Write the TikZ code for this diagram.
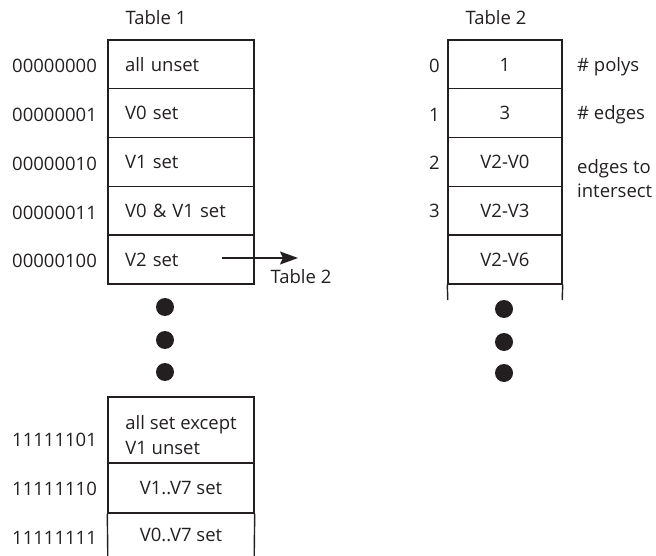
\documentclass[tikz,border=0pt]{standalone}
\usepackage{fontspec}
\setmainfont{Open Sans}
\usetikzlibrary{arrows.meta}
\definecolor{ink}{HTML}{231F20}
\begin{document}
\begin{tikzpicture}[x=1pt,y=-1pt,
  every node/.style={font=\fontsize{18.5}{24}\selectfont, text=ink, inner sep=0pt},
  box/.style={draw=ink, line width=1.4pt, minimum width=146pt},
  cellA/.style={box, text width=112pt, align=left},
  cellB/.style={draw=ink, line width=1.4pt, minimum width=114pt, minimum height=48.8pt, align=center},
  lab/.style={anchor=east},
  rlab/.style={anchor=west, align=left},
  dot/.style={circle, fill=ink, minimum size=18pt},
  sideline/.style={draw=ink, line width=1.4pt}
]
\useasboundingbox (0,0) rectangle (656,556);
% ---------- Table 1 ----------
\node (t1title) at (156,18) {Table 1};
\foreach \i/\txt/\code in {0/all unset/00000000, 1/V0 set/00000001, 2/V1 set/00000010, 3/V0 \& V1 set/00000011, 4/V2 set/00000100}{
  \node[cellA, minimum height=48.8pt] (a\i) at (181,{64.4+48.8*\i}) {\txt};
  \node[lab] (ca\i) at (97,{66+48.8*\i}) {\code};
}
% arrow to Table 2
\coordinate (arrS) at (222,258);
\coordinate (arrE) at (298,258);
\draw[ink, line width=1.5pt, -{Stealth[length=18pt,width=13pt,inset=3pt]}] (arrS) -- (arrE);
\node (t2ref) at (301,277) {Table 2};
% dots Table 1
\node[dot] (d1) at (165,307) {};
\node[dot] (d2) at (165,340) {};
\node[dot] (d3) at (165,372) {};
% bottom table
\node[box, minimum height=66pt, align=left] (b0) at (181,430) {\rule{0pt}{24pt}all set except\\[1pt]V1 unset};
\node[lab] (cb0) at (97,440) {11111101};
\node[box, minimum height=50pt, align=center] (b1) at (181,488) {V1..V7 set};
\node[lab] (cb1) at (97,489) {11111110};
\node[minimum width=146pt, minimum height=43pt, align=center] (b2) at (181,534.5) {V0..V7 set};
\node[lab] (cb2) at (97,538) {11111111};
\draw[sideline] (b1.south west) -- (b2.south west) (b1.south east) -- (b2.south east);
% ---------- Table 2 ----------
\node (t2title) at (496,18) {Table 2};
\foreach \i/\txt in {0/1, 1/3, 2/V2-V0, 3/V2-V3, 4/V2-V6}{
  \node[cellB] (c\i) at (505,{64.4+48.8*\i}) {\txt};
}
\node[lab] (i0) at (440,66) {0};
\node[lab] (i1) at (440,115) {1};
\node[lab] (i2) at (440,163) {2};
\node[lab] (i3) at (440,211) {3};
\node[minimum width=114pt, minimum height=16pt] (c5) at (505,292) {};
\draw[sideline] (c4.south west) -- (c5.south west) (c4.south east) -- (c5.south east);
\node[rlab] (r0) at (577,67) {\# polys};
\node[rlab] (r1) at (577,115) {\# edges};
\node[rlab, anchor=north west] (r2) at (577,159) {edges to\\[0pt]intersect};
% dots Table 2
\node[dot] (e1) at (504,309) {};
\node[dot] (e2) at (504,342) {};
\node[dot] (e3) at (504,373) {};
\end{tikzpicture}
\end{document}
